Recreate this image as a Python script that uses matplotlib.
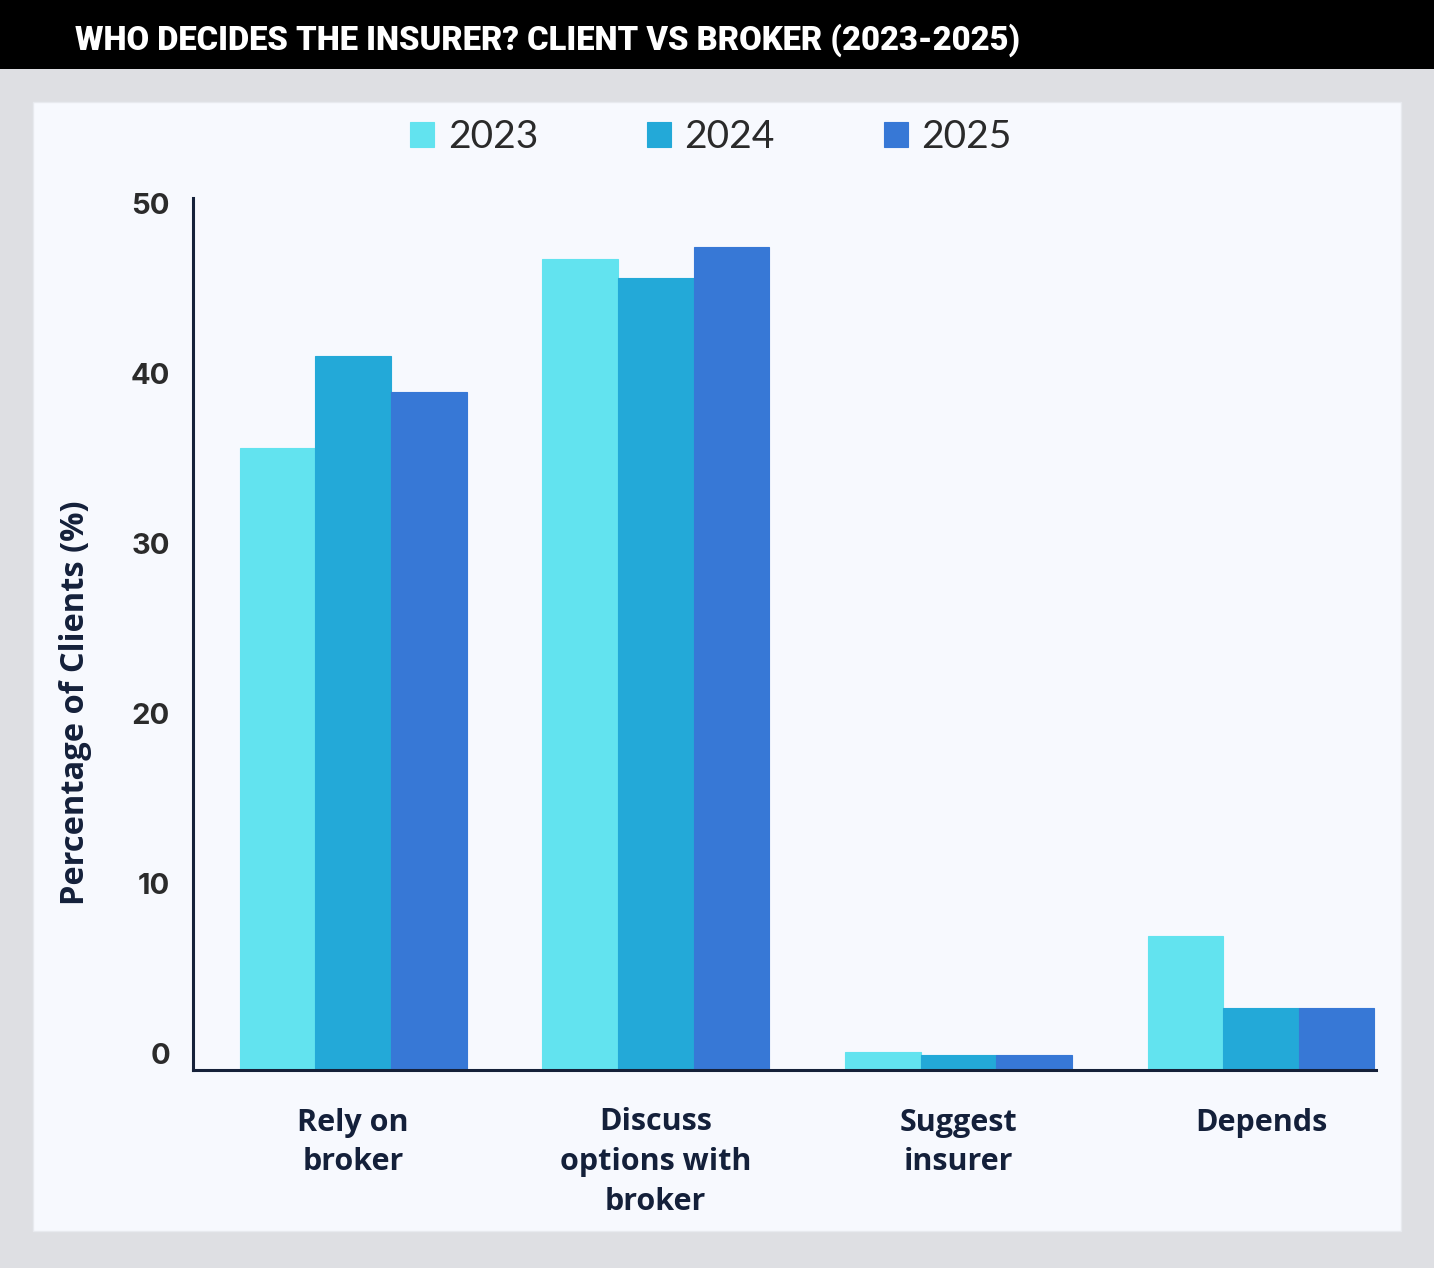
import matplotlib
matplotlib.use("Agg")
import matplotlib.pyplot as plt
import matplotlib.transforms as mtransforms
from matplotlib.patches import Rectangle
import numpy as np

categories = ["Rely on\nbroker", "Discuss\noptions with\nbroker", "Suggest\ninsurer", "Depends"]
years = ["2023", "2024", "2025"]
values_2023 = [36.6, 47.7, 1.05, 7.9]
values_2024 = [42.0, 46.6, 0.88, 3.65]
values_2025 = [39.9, 48.4, 0.88, 3.65]
yticks = [0, 10, 20, 30, 40, 50]
title = "WHO DECIDES THE INSURER? CLIENT VS BROKER (2023-2025)"
ylabel = "Percentage of Clients (%)"

colors = ["#62e3ef", "#23a9d8", "#3778d6"]
W, H = 1434, 1268
fig = plt.figure(figsize=(W / 100, H / 100), dpi=100)
fig.patch.set_facecolor("#dedfe3")

# title bar and panel
fig.patches.append(Rectangle((0, 1 - 69 / H), 1, 69 / H, transform=fig.transFigure,
                             facecolor="black", edgecolor="none", zorder=-2))
fig.patches.append(Rectangle((33 / W, 1 - 1231 / H), (1401 - 33) / W, (1231 - 102) / H,
                             transform=fig.transFigure, facecolor="#f7f9fe",
                             edgecolor="#e8eaef", linewidth=1, zorder=-2))

ax = fig.add_axes([193 / W, 1 - 1070 / H, (1376 - 193) / W, (1070 - 198) / H])
ax.set_facecolor("none")
ax.set_zorder(2)

x = np.arange(len(categories))
bw = 0.25
series = [values_2023, values_2024, values_2025]
for i, (vals, yr, c) in enumerate(zip(series, years, colors)):
    ax.bar(x + (i - 1) * bw, vals, width=bw, color=c, label=yr,
           edgecolor=c, linewidth=0.8, zorder=2)

ax.set_xlim(-0.529, 3.38)
ax.set_ylim(0, (1070 - 198) / 17.0)
ax.set_yticks(yticks)
ax.set_yticklabels([str(t) for t in yticks], fontsize=21, fontweight="bold",
                   color="#2b2b2b", family="Inter")
ax.tick_params(axis="y", length=0, pad=16.5)
offset = mtransforms.ScaledTranslation(0, 17 / 100, fig.dpi_scale_trans)
for lab in ax.get_yticklabels():
    lab.set_transform(lab.get_transform() + offset)

ax.set_xticks(x)
ax.set_xticklabels(categories, fontsize=22, fontweight="bold", color="#14203a",
                   family="Open Sans", linespacing=1.42)
ax.tick_params(axis="x", length=0, pad=27)

for s in ["top", "right"]:
    ax.spines[s].set_visible(False)
for s in ["left", "bottom"]:
    ax.spines[s].set_color("#16213a")
    ax.spines[s].set_linewidth(2.2)
    ax.spines[s].set_zorder(3)

fig.text(76 / W, 1 - 703 / H, ylabel, rotation=90, ha="center", va="center",
         fontsize=23.5, fontweight="bold", color="#14203a", family="Open Sans")

leg = ax.legend(loc="center", bbox_to_anchor=(711 / W, 1 - 137 / H),
                bbox_transform=fig.transFigure, ncol=3, frameon=False,
                prop={"family": "Lato", "weight": "normal", "size": 28},
                handlelength=0.62, handleheight=0.62, handletextpad=0.35,
                columnspacing=2.8, borderaxespad=0)
for t in leg.get_texts():
    t.set_color("#2a2a2a")

# title fitted to width
tt = fig.text(75 / W, 1 - 40 / H, title, ha="left", va="center", color="white",
              fontsize=26, fontweight="heavy", family="Roboto")
fig.canvas.draw()
r = fig.canvas.get_renderer()
bb = tt.get_window_extent(r)
tt.set_fontsize(26 * (1022 - 75) / bb.width)

fig.savefig("out.png", dpi=100, facecolor=fig.get_facecolor())
